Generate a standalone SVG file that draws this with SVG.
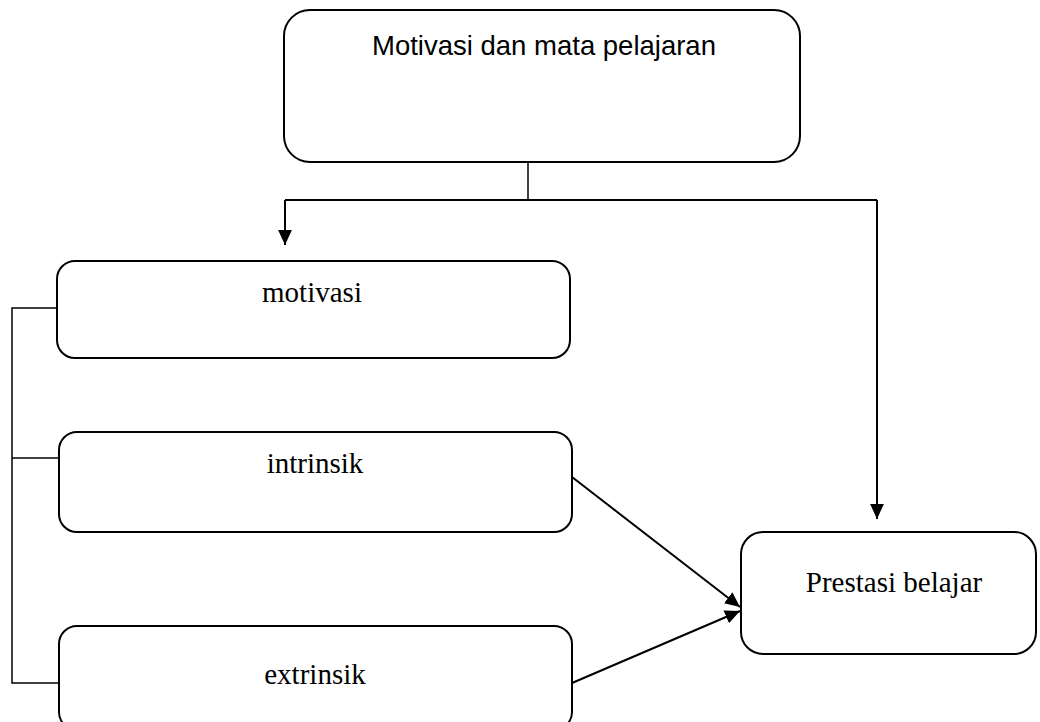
<svg xmlns="http://www.w3.org/2000/svg" width="1040" height="722" viewBox="0 0 1040 722">
<style>
.box{fill:#fff;stroke:#000;stroke-width:2}
.serif{font-family:"Liberation Serif","Times New Roman",serif;font-size:29px;fill:#000;text-anchor:middle}
.sans{font-family:"Liberation Sans",Arial,sans-serif;font-size:27.5px;fill:#000;text-anchor:middle}
.ln{fill:none;stroke:#000;stroke-width:2}
.ln1{fill:none;stroke:#000;stroke-width:1.5}
</style>
<defs>
<marker id="arr" viewBox="0 0 10 10" refX="10" refY="5" markerWidth="7.5" markerHeight="7.5" markerUnits="strokeWidth" orient="auto">
<path d="M0,0.4 L10,5 L0,9.6 z" fill="#000"/>
</marker>
</defs>
<g id="connectors">
<path class="ln1" d="M528,162 V200"/>
<path class="ln" d="M285,200 H877"/>
<path class="ln" d="M285,200 V245" marker-end="url(#arr)"/>
<path class="ln" d="M877,200 V519" marker-end="url(#arr)"/>
<path class="ln1" d="M57,308 H12 V683 H59"/>
<path class="ln1" d="M12,458 H59"/>
<path class="ln" d="M572,477 L740,607" marker-end="url(#arr)"/>
<path class="ln" d="M572,683 L740,611" marker-end="url(#arr)"/>
</g>
<g id="node-top">
<rect class="box" x="284" y="10" width="516" height="152" rx="26"/>
<text class="sans" x="544" y="55">Motivasi dan mata pelajaran</text>
</g>
<g id="node-motivasi">
<rect class="box" x="57" y="261" width="513" height="97" rx="18"/>
<text class="serif" x="312" y="302">motivasi</text>
</g>
<g id="node-intrinsik">
<rect class="box" x="59" y="432" width="513" height="100" rx="18"/>
<text class="serif" x="315" y="473">intrinsik</text>
</g>
<g id="node-extrinsik">
<rect class="box" x="59" y="626" width="513" height="104" rx="18"/>
<text class="serif" x="315" y="684">extrinsik</text>
</g>
<g id="node-prestasi">
<rect class="box" x="741" y="532" width="295" height="122" rx="22"/>
<text class="serif" x="894" y="592">Prestasi belajar</text>
</g>
</svg>
